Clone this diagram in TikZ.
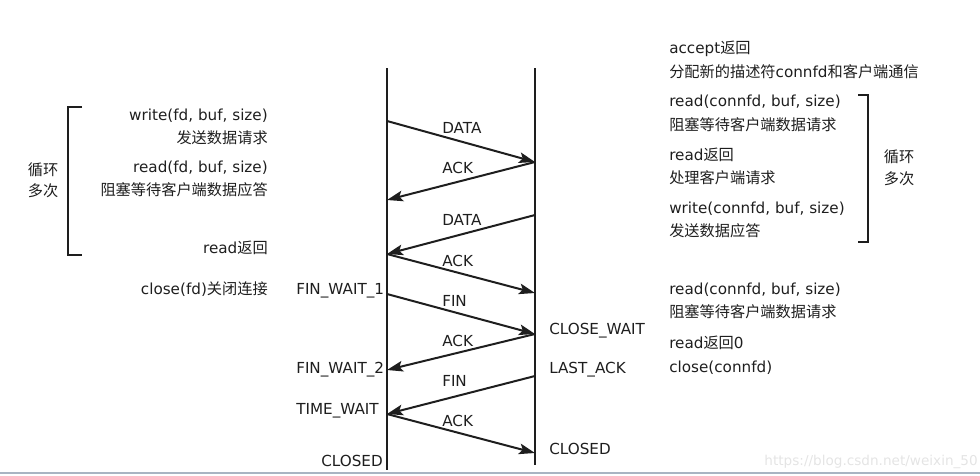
\documentclass[tikz,border=0pt]{standalone}
\usepackage{fontspec}
\setmainfont{DejaVu Sans}
\newfontfamily\cjk{Noto Sans CJK SC}
\usetikzlibrary{arrows.meta}
\definecolor{ink}{HTML}{1E1E1E}
\definecolor{wm}{HTML}{E4E4E4}
\definecolor{bar}{HTML}{A9B4C2}
\begin{document}
\begin{tikzpicture}[x=0.75pt,y=-0.75pt,
  lbl/.style={inner sep=0pt, text=ink, font=\fontsize{11.4}{13}\selectfont, text height=8.5pt, text depth=2.5pt},
  msg/.style={line width=1.5pt, draw=ink, -{Stealth[length=12pt,width=8pt,inset=2.5pt]}},
  life/.style={line width=2.2pt, draw=ink},
  brk/.style={line width=2pt, draw=ink}]
\useasboundingbox (0,0) rectangle (980,475);
% lifelines
\coordinate (Ltop) at (387,68);
\coordinate (Lbot) at (387,470);
\coordinate (Rtop) at (535,68);
\coordinate (Rbot) at (535,465);
\draw[life] (Ltop) -- (Lbot);
\draw[life] (Rtop) -- (Rbot);
% event points
\coordinate (l1) at (387,121);
\coordinate (r1) at (535,162);
\coordinate (l2) at (387,200);
\coordinate (r2) at (535,215);
\coordinate (l3) at (387,254);
\coordinate (r3) at (535,293);
\coordinate (l4) at (387,294);
\coordinate (r4) at (535,334);
\coordinate (l5) at (387,370);
\coordinate (r5) at (535,376);
\coordinate (l6) at (387,414);
\coordinate (r6) at (535,453);
% messages
\draw[msg] (l1) -- (r1);
\draw[msg] (r1) -- (l2);
\draw[msg] (r2) -- (l3);
\draw[msg] (l3) -- (r3);
\draw[msg] (l4) -- (r4);
\draw[msg] (r4) -- (l5);
\draw[msg] (r5) -- (l6);
\draw[msg] (l6) -- (r6);
% message labels
\node[lbl,anchor=west] (m1) at (442,129) {DATA};
\node[lbl,anchor=west] (m2) at (442,169) {ACK};
\node[lbl,anchor=west] (m3) at (442,221) {DATA};
\node[lbl,anchor=west] (m4) at (442,262) {ACK};
\node[lbl,anchor=west] (m5) at (442,302) {FIN};
\node[lbl,anchor=west] (m6) at (442,342) {ACK};
\node[lbl,anchor=west] (m7) at (442,382) {FIN};
\node[lbl,anchor=west] (m8) at (442,422) {ACK};
% states
\node[lbl,anchor=west] (s1) at (296,290) {FIN\_WAIT\_1};
\node[lbl,anchor=west] (s2) at (296,369) {FIN\_WAIT\_2};
\node[lbl,anchor=west] (s3) at (296,410) {TIME\_WAIT};
\node[lbl,anchor=east] (s4) at (383,462) {CLOSED};
\node[lbl,anchor=west] (s5) at (549,330) {CLOSE\_WAIT};
\node[lbl,anchor=west] (s6) at (549,369) {LAST\_ACK};
\node[lbl,anchor=west] (s7) at (549,450) {CLOSED};
% client side texts
\node[lbl,anchor=east] (c1) at (268,116) {write(fd, buf, size)};
\node[lbl,anchor=east] (c2) at (268,139) {\cjk 发送数据请求};
\node[lbl,anchor=east] (c3) at (268,168) {read(fd, buf, size)};
\node[lbl,anchor=east] (c4) at (268,191) {\cjk 阻塞等待客户端数据应答};
\node[lbl,anchor=east] (c5) at (268,249) {read{\cjk 返回}};
\node[lbl,anchor=east] (c6) at (268,290) {close(fd){\cjk 关闭连接}};
\node[lbl] (cl1) at (43,171) {\cjk 循环};
\node[lbl] (cl2) at (43,192) {\cjk 多次};
\draw[brk] (82,107) -- (68,107) -- (68,255) -- (82,255);
% server side texts
\node[lbl,anchor=west] (v1) at (669,49) {accept{\cjk 返回}};
\node[lbl,anchor=west] (v2) at (669,73) {{\cjk 分配新的描述符}connfd{\cjk 和客户端通信}};
\node[lbl,anchor=west] (v3) at (669,102) {read(connfd, buf, size)};
\node[lbl,anchor=west] (v4) at (669,126) {\cjk 阻塞等待客户端数据请求};
\node[lbl,anchor=west] (v5) at (669,156) {read{\cjk 返回}};
\node[lbl,anchor=west] (v6) at (669,179) {\cjk 处理客户端请求};
\node[lbl,anchor=west] (v7) at (669,209) {write(connfd, buf, size)};
\node[lbl,anchor=west] (v8) at (669,232) {\cjk 发送数据应答};
\node[lbl] (vl1) at (899,158) {\cjk 循环};
\node[lbl] (vl2) at (899,180) {\cjk 多次};
\draw[brk] (858,95) -- (868,95) -- (868,242) -- (858,242);
\node[lbl,anchor=west] (v9) at (669,290) {read(connfd, buf, size)};
\node[lbl,anchor=west] (v10) at (669,313) {\cjk 阻塞等待客户端数据请求};
\node[lbl,anchor=west] (v11) at (669,344) {read{\cjk 返回}0};
\node[lbl,anchor=west] (v12) at (669,368) {close(connfd)};
% watermark and bottom bar
\node[inner sep=0pt,anchor=east,text=wm,font=\fontsize{10.2}{12}\selectfont] (wmk) at (978,462) {https://blog.csdn.net/weixin\_50};
\draw[bar,line width=1.4pt] (0,473) -- (980,473);
\end{tikzpicture}
\end{document}
